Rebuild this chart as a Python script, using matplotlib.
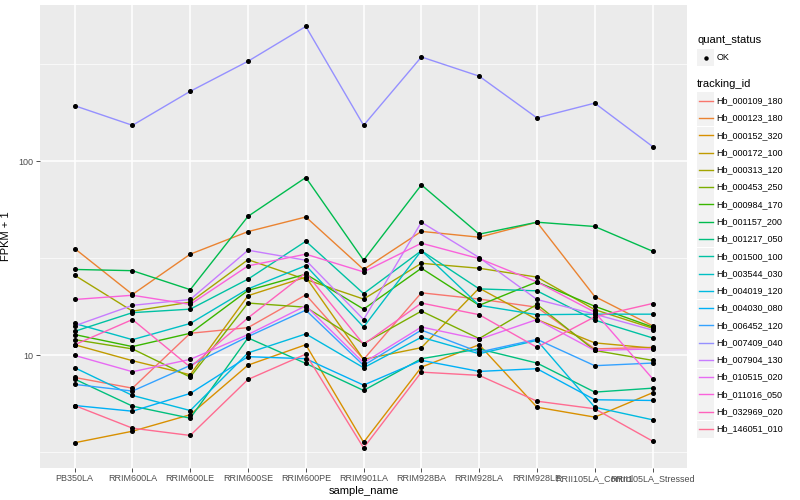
import numpy as np
import matplotlib
matplotlib.use("Agg")
import matplotlib.pyplot as plt
from matplotlib.lines import Line2D
from matplotlib.patches import Rectangle
from matplotlib.ticker import FixedLocator, NullFormatter

plt.rcParams['font.family'] = ['Liberation Sans', 'DejaVu Sans']

samples = ['PB350LA', 'RRIM600LA', 'RRIM600LE', 'RRIM600SE', 'RRIM600PE',
           'RRIM901LA', 'RRIM928BA', 'RRIM928LA', 'RRIM928LE',
           'RRII105LA_Control', 'RRII105LA_Stressed']

tracking_ids = ['Hb_000109_180', 'Hb_000123_180', 'Hb_000152_320', 'Hb_000172_100',
                'Hb_000313_120', 'Hb_000453_250', 'Hb_000984_170', 'Hb_001157_200',
                'Hb_001217_050', 'Hb_001500_100', 'Hb_003544_030', 'Hb_004019_120',
                'Hb_004030_080', 'Hb_006452_120', 'Hb_007409_040', 'Hb_007904_130',
                'Hb_010515_020', 'Hb_011016_050', 'Hb_032969_020', 'Hb_146051_010']

# ggplot hue palette, 20 levels
colors = ['#F8766D', '#EA8331', '#D89000', '#C09B00', '#A3A500', '#7CAE00',
          '#39B600', '#00BB4E', '#00BF7D', '#00C1A3', '#00BFC4', '#00BAE0',
          '#00B0F6', '#35A2FF', '#9590FF', '#C77CFF', '#E76BF3', '#FA62DB',
          '#FF62BC', '#FF6C91']

# FPKM + 1 per tracking id, one value per sample
fpkm = [
    [7.70, 6.78, 13.0, 13.9, 20.5, 9.54, 21.0, 19.5, 17.7, 10.8, 11.0],
    [35.5, 20.6, 33.2, 43.4, 51.6, 27.7, 43.5, 40.6, 48.5, 20.1, 14.2],
    [3.55, 4.07, 4.95, 8.91, 11.35, 3.57, 8.70, 11.35, 5.41, 4.81, 6.42],
    [11.35, 9.39, 7.95, 20.3, 25.3, 9.54, 10.96, 22.2, 15.3, 11.6, 10.9],
    [25.85, 16.9, 18.8, 31.1, 24.6, 19.5, 29.8, 28.1, 25.3, 17.2, 13.8],
    [12.05, 10.8, 7.73, 18.6, 17.7, 11.5, 16.9, 12.2, 18.3, 10.6, 9.43],
    [12.8, 11.1, 13.0, 21.6, 26.2, 17.3, 28.1, 18.1, 23.9, 17.9, 14.0],
    [27.7, 27.3, 21.8, 52.0, 82.4, 30.9, 75.5, 42.1, 48.5, 46.1, 34.4],
    [7.55, 5.48, 4.75, 12.3, 9.09, 6.60, 9.61, 10.8, 9.13, 6.47, 6.78],
    [13.3, 16.6, 17.3, 24.7, 38.7, 20.8, 34.6, 22.0, 21.5, 15.2, 12.3],
    [14.6, 12.05, 14.6, 22.0, 29.0, 14.0, 34.6, 18.1, 16.2, 16.3, 16.3],
    [8.64, 6.22, 5.20, 10.3, 12.9, 8.64, 12.4, 10.2, 11.95, 5.41, 4.66],
    [5.52, 5.16, 6.37, 9.85, 9.61, 7.03, 9.43, 8.27, 8.54, 5.91, 5.86],
    [7.09, 6.55, 8.88, 12.5, 17.1, 8.88, 13.5, 10.4, 12.1, 8.85, 9.13],
    [193, 153, 229, 327, 494, 153, 344, 274, 167, 199, 119],
    [14.2, 18.1, 19.4, 34.8, 30.9, 15.3, 48.5, 31.9, 19.4, 16.3, 13.5],
    [10.0, 8.24, 9.54, 12.8, 18.0, 9.17, 14.0, 12.1, 15.3, 10.6, 10.8],
    [19.4, 20.4, 18.3, 28.9, 33.2, 26.9, 37.8, 31.5, 23.9, 16.7, 7.59],
    [11.35, 15.3, 8.70, 15.6, 26.6, 11.4, 18.6, 16.2, 11.0, 15.8, 18.5],
    [5.52, 4.22, 3.87, 7.52, 10.15, 3.34, 8.20, 7.89, 5.81, 5.31, 3.62],
]

fig = plt.figure(figsize=(8, 5), dpi=100)
ax = fig.add_axes([0.05, 0.065, 0.809, 0.925])
ax.set_facecolor('#EBEBEB')
for s in ax.spines.values():
    s.set_visible(False)

x = np.arange(len(samples))
for vals, col in zip(fpkm, colors):
    ax.plot(x, vals, color=col, lw=1.0, zorder=3)
for vals in fpkm:
    ax.plot(x, vals, 'o', color='black', ms=2.6, zorder=4)

ax.set_yscale('log')
ax.set_ylim(2.647, 637)
ax.set_xlim(-0.6, len(samples) - 0.4)

ax.yaxis.set_major_locator(FixedLocator([10, 100]))
ax.yaxis.set_minor_locator(FixedLocator([10 ** 0.5, 10 ** 1.5, 10 ** 2.5]))
ax.yaxis.set_minor_formatter(NullFormatter())
ax.set_yticklabels(['10', '100'])
ax.set_xticks(x)
ax.set_xticklabels(samples)

ax.grid(True, which='major', color='white', lw=1.1, zorder=1)
ax.grid(True, which='minor', axis='y', color='white', lw=0.5, zorder=1)
ax.set_axisbelow(True)
ax.tick_params(which='major', length=3, width=0.6, color='#333333',
               labelsize=6.5, labelcolor='#4D4D4D', pad=2)
ax.tick_params(which='minor', length=0)

ax.set_xlabel('sample_name', fontsize=8, labelpad=2)
ax.set_ylabel('FPKM + 1', fontsize=8, labelpad=5)

# legend, drawn by hand in pixel-like figure coords
W, H = 800.0, 500.0


def fx(px):
    return px / W


def fy(py):
    return 1 - py / H


fig.text(fx(697), fy(40), 'quant_status', fontsize=8, va='center', ha='left')
fig.patches.append(Rectangle((fx(697), fy(66)), 17 / W, 17 / H, transform=fig.transFigure,
                             facecolor='#F2F2F2', edgecolor='none'))
fig.lines.append(Line2D([fx(705.5)], [fy(57.5)], marker='o', ms=2.2, color='black',
                        transform=fig.transFigure))
fig.text(fx(716.5), fy(57.5), 'OK', fontsize=6.5, va='center', ha='left')

fig.text(fx(697), fy(84), 'tracking_id', fontsize=8, va='center', ha='left')
for i, (tid, col) in enumerate(zip(tracking_ids, colors)):
    yc = 100.7 + i * 17.28
    fig.patches.append(Rectangle((fx(697), fy(yc + 8.5)), 17 / W, 17 / H,
                                 transform=fig.transFigure, facecolor='#F2F2F2',
                                 edgecolor='none'))
    fig.lines.append(Line2D([fx(698.5), fx(712.5)], [fy(yc), fy(yc)], color=col, lw=1.0,
                            transform=fig.transFigure))
    fig.text(fx(716.5), fy(yc), tid, fontsize=6.5, va='center', ha='left')

fig.savefig('out.png', dpi=100)
